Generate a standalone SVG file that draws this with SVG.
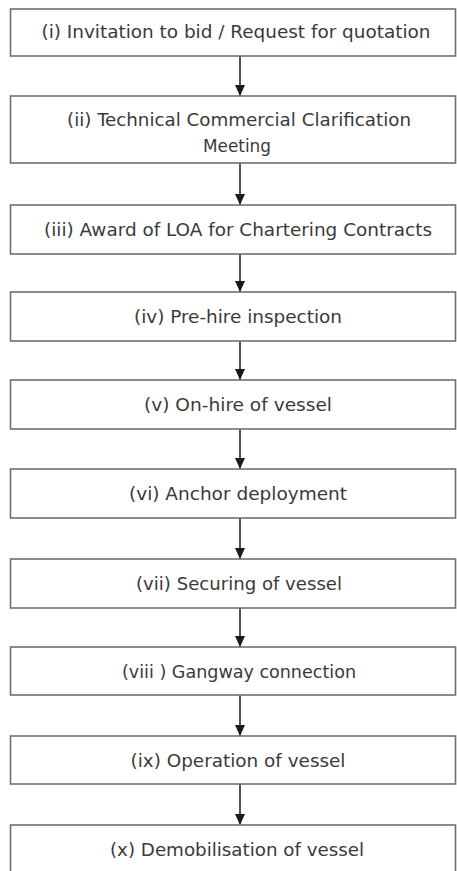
<svg xmlns="http://www.w3.org/2000/svg" width="457" height="871" viewBox="0 0 457 871">
<defs>
<marker id="ah" markerWidth="11" markerHeight="10" refX="11" refY="5" orient="auto" markerUnits="userSpaceOnUse">
<path d="M0,0 L11,5 L0,10 Z" fill="#1a1a1a"/>
</marker>
<style>
.box{fill:#ffffff;stroke:#707070;stroke-width:1.6}
.lbl{font-family:"DejaVu Sans Condensed","DejaVu Sans",sans-serif;font-size:17px;fill:#3a3a3a;text-anchor:middle}
.conn{stroke:#1a1a1a;stroke-width:1.5;fill:none;marker-end:url(#ah)}
</style>
</defs>
<rect width="457" height="871" fill="#ffffff"/>
<g id="connectors">
<line class="conn" x1="240" y1="56" x2="240" y2="96"/>
<line class="conn" x1="240" y1="163" x2="240" y2="205"/>
<line class="conn" x1="240" y1="254" x2="240" y2="292"/>
<line class="conn" x1="240" y1="341" x2="240" y2="380"/>
<line class="conn" x1="240" y1="429" x2="240" y2="469"/>
<line class="conn" x1="240" y1="518" x2="240" y2="559"/>
<line class="conn" x1="240" y1="608" x2="240" y2="647"/>
<line class="conn" x1="240" y1="695" x2="240" y2="736"/>
<line class="conn" x1="240" y1="784" x2="240" y2="825"/>
</g>
<g id="n1"><rect class="box" x="10.5" y="9" width="445" height="47"/><text class="lbl" x="236" y="38" textLength="389" lengthAdjust="spacingAndGlyphs">(i) Invitation to bid / Request for quotation</text></g>
<g id="n2"><rect class="box" x="10.5" y="96" width="445" height="67"/><text class="lbl" x="239" y="126" textLength="344" lengthAdjust="spacingAndGlyphs">(ii) Technical Commercial Clarification</text><text class="lbl" x="237" y="152" textLength="68" lengthAdjust="spacingAndGlyphs">Meeting</text></g>
<g id="n3"><rect class="box" x="10.5" y="205" width="445" height="49"/><text class="lbl" x="238" y="236" textLength="388" lengthAdjust="spacingAndGlyphs">(iii) Award of LOA for Chartering Contracts</text></g>
<g id="n4"><rect class="box" x="10.5" y="292" width="445" height="49"/><text class="lbl" x="238" y="323" textLength="208" lengthAdjust="spacingAndGlyphs">(iv) Pre-hire inspection</text></g>
<g id="n5"><rect class="box" x="10.5" y="380" width="445" height="49"/><text class="lbl" x="238" y="411" textLength="188" lengthAdjust="spacingAndGlyphs">(v) On-hire of vessel</text></g>
<g id="n6"><rect class="box" x="10.5" y="469" width="445" height="49"/><text class="lbl" x="238" y="500" textLength="218" lengthAdjust="spacingAndGlyphs">(vi) Anchor deployment</text></g>
<g id="n7"><rect class="box" x="10.5" y="559" width="445" height="49"/><text class="lbl" x="239" y="590" textLength="206" lengthAdjust="spacingAndGlyphs">(vii) Securing of vessel</text></g>
<g id="n8"><rect class="box" x="10.5" y="647" width="445" height="48"/><text class="lbl" x="239" y="678" textLength="234" lengthAdjust="spacingAndGlyphs">(viii ) Gangway connection</text></g>
<g id="n9"><rect class="box" x="10.5" y="736" width="445" height="48"/><text class="lbl" x="238" y="767" textLength="215" lengthAdjust="spacingAndGlyphs">(ix) Operation of vessel</text></g>
<g id="n10"><rect class="box" x="10.5" y="825" width="445" height="60"/><text class="lbl" x="237" y="856" textLength="254" lengthAdjust="spacingAndGlyphs">(x) Demobilisation of vessel</text></g>
</svg>
